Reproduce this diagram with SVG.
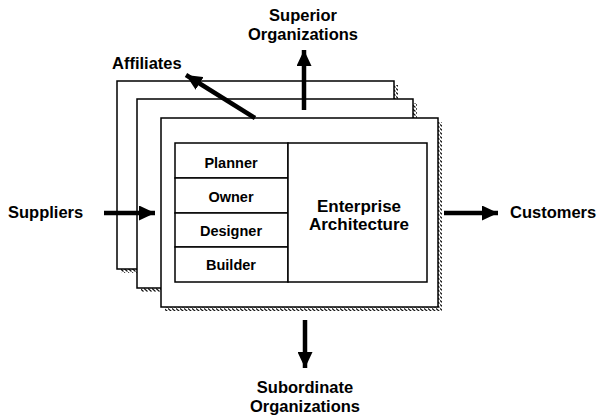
<svg xmlns="http://www.w3.org/2000/svg" width="603" height="419" viewBox="0 0 603 419">
<defs>
<pattern id="hatch" width="4" height="4" patternUnits="userSpaceOnUse">
<rect width="4" height="4" fill="#fff"/>
<path d="M0,0.5 L3.5,3.5" stroke="#111" stroke-width="1.2"/>
</pattern>
<marker id="ah" markerUnits="userSpaceOnUse" markerWidth="17" markerHeight="15" refX="16" refY="7.5" orient="auto">
<path d="M0,0 L16,7.5 L0,15 Z" fill="#000"/>
</marker>
</defs>
<style>
.frame{fill:#fff;stroke:#000;stroke-width:1.5}
.shadow{fill:url(#hatch);stroke:none}
.cell{fill:#fff;stroke:#000;stroke-width:1.5}
.lbl{font-family:"Liberation Sans",Arial,sans-serif;font-weight:bold;font-size:16.5px;fill:#000}
.in{font-family:"Liberation Sans",Arial,sans-serif;font-weight:bold;font-size:14.5px;fill:#000;text-anchor:middle}
.ea{font-family:"Liberation Sans",Arial,sans-serif;font-weight:bold;font-size:17px;fill:#000;text-anchor:middle}
.arr{stroke:#000;stroke-width:4.5;fill:none;marker-end:url(#ah)}
</style>
<g id="frame-back">
<rect class="shadow" x="121" y="85" width="277" height="188"/>
<rect class="frame" x="117" y="81" width="277" height="188"/>
</g>
<g id="frame-middle">
<rect class="shadow" x="141" y="103" width="276" height="189"/>
<rect class="frame" x="137" y="99" width="276" height="189"/>
</g>
<g id="frame-front">
<rect class="shadow" x="165" y="122" width="277" height="189"/>
<rect class="frame" x="161" y="118" width="277" height="189"/>
</g>
<g id="planner">
<rect class="cell" x="175" y="143" width="113" height="35"/>
<text class="in" x="231" y="168">Planner</text>
</g>
<g id="owner">
<rect class="cell" x="175" y="178" width="113" height="35"/>
<text class="in" x="231" y="202">Owner</text>
</g>
<g id="designer">
<rect class="cell" x="175" y="213" width="113" height="34"/>
<text class="in" x="231" y="236">Designer</text>
</g>
<g id="builder">
<rect class="cell" x="175" y="247" width="113" height="35"/>
<text class="in" x="231" y="270">Builder</text>
</g>
<g id="enterprise-architecture">
<rect class="cell" x="288" y="143" width="139" height="139"/>
<text class="ea" x="359" y="212">Enterprise</text>
<text class="ea" x="359" y="230">Architecture</text>
</g>
<g id="suppliers"><text class="lbl" x="8" y="218">Suppliers</text></g>
<g id="customers"><text class="lbl" x="510" y="218" font-size="16">Customers</text></g>
<g id="affiliates"><text class="lbl" x="112" y="69">Affiliates</text></g>
<g id="superior"><text class="lbl" text-anchor="middle" x="303" y="21">Superior</text><text class="lbl" text-anchor="middle" x="303" y="40">Organizations</text></g>
<g id="subordinate"><text class="lbl" text-anchor="middle" x="305" y="393">Subordinate</text><text class="lbl" text-anchor="middle" x="305" y="412">Organizations</text></g>
<g id="connectors">
<line class="arr" x1="104" y1="213" x2="155" y2="213"/>
<line class="arr" x1="444" y1="213" x2="498" y2="213"/>
<line class="arr" x1="304" y1="110" x2="304" y2="50"/>
<line class="arr" x1="305" y1="320" x2="305" y2="368"/>
<line class="arr" x1="255" y1="118" x2="186" y2="75"/>
</g>
</svg>
